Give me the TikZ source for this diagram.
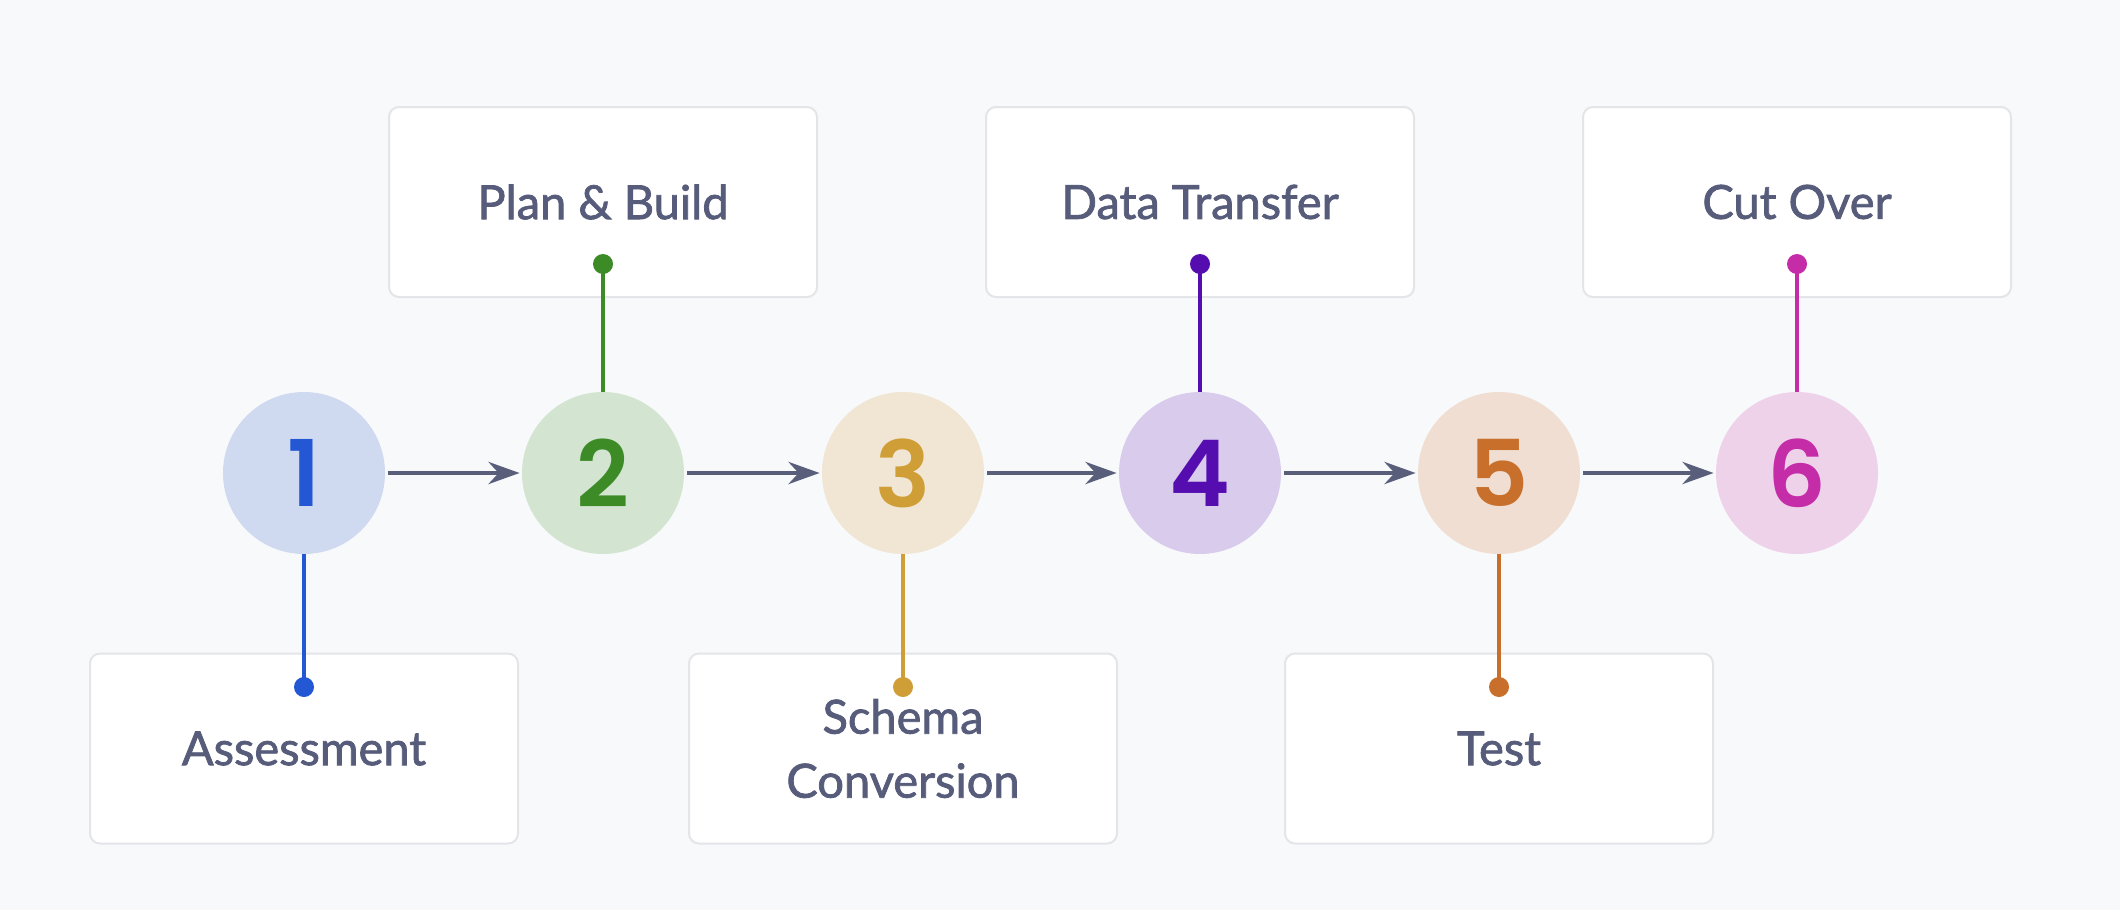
\documentclass[tikz,border=0pt]{standalone}
\usepackage{fontspec}
\setmainfont{Lato}
\newfontfamily\labelfont{Lato}[FakeBold=1.6]
\newfontfamily\numfont{Poppins}[UprightFont={* SemiBold}]
\usetikzlibrary{arrows.meta}
\definecolor{bg}{HTML}{F8F9FB}
\definecolor{boxline}{HTML}{E4E5E9}
\definecolor{labeltext}{HTML}{565C7A}
\definecolor{arrowcol}{HTML}{595E7B}
\definecolor{fillA}{HTML}{CFDAF1}\definecolor{inkA}{HTML}{2457D3}
\definecolor{fillB}{HTML}{D3E5D1}\definecolor{inkB}{HTML}{3D8B27}
\definecolor{fillC}{HTML}{F0E6D3}\definecolor{inkC}{HTML}{CF9E36}
\definecolor{fillD}{HTML}{D9CBEC}\definecolor{inkD}{HTML}{560DB0}
\definecolor{fillE}{HTML}{F0DED2}\definecolor{inkE}{HTML}{C8702B}
\definecolor{fillF}{HTML}{EED2EA}\definecolor{inkF}{HTML}{C42CA8}
\begin{document}
\begin{tikzpicture}[x=0.5pt,y=-0.5pt,
  stepcircle/.style={circle, minimum size=81pt, inner sep=0pt,
    font=\numfont\fontsize{46}{46}\selectfont},
  labelbox/.style={rectangle, rounded corners=5pt, draw=boxline, line width=1pt,
    fill=white, minimum width=214pt, minimum height=95pt, inner sep=0pt,
    font=\labelfont\fontsize{23.5}{32}\selectfont, text=labeltext, align=center},
  dotnode/.style={circle, minimum size=10pt, inner sep=0pt},
  stem/.style={line width=2.2pt},
  flow/.style={draw=arrowcol, line width=2.4pt, -{Stealth[length=15.5pt, width=11pt, inset=5pt]}, shorten <=1.5pt, shorten >=1pt}
]
\path[use as bounding box, fill=bg] (0,0) rectangle (2120,910);

% boxes
\node[labelbox] (b1) at (304,748.5) {Assessment};
\node[labelbox] (b2) at (603,202) {Plan \& Build};
\node[labelbox] (b3) at (903,748.5) {Schema\\Conversion};
\node[labelbox] (b4) at (1200,202) {Data Transfer};
\node[labelbox] (b5) at (1499,748.5) {Test};
\node[labelbox] (b6) at (1797,202) {Cut Over};

% circles
\node[stepcircle, fill=fillA, text=inkA] (c1) at (304,473) {1};
\node[stepcircle, fill=fillB, text=inkB] (c2) at (603,473) {2};
\node[stepcircle, fill=fillC, text=inkC] (c3) at (903,473) {3};
\node[stepcircle, fill=fillD, text=inkD] (c4) at (1200,473) {4};
\node[stepcircle, fill=fillE, text=inkE] (c5) at (1499,473) {5};
\node[stepcircle, fill=fillF, text=inkF] (c6) at (1797,473) {6};

% dots
\node[dotnode, fill=inkA] (d1) at (304,687) {};
\node[dotnode, fill=inkB] (d2) at (603,264) {};
\node[dotnode, fill=inkC] (d3) at (903,687) {};
\node[dotnode, fill=inkD] (d4) at (1200,264) {};
\node[dotnode, fill=inkE] (d5) at (1499,687) {};
\node[dotnode, fill=inkF] (d6) at (1797,264) {};

% stems
\draw[stem, draw=inkA] (c1.south) -- (d1.center);
\draw[stem, draw=inkB] (c2.north) -- (d2.center);
\draw[stem, draw=inkC] (c3.south) -- (d3.center);
\draw[stem, draw=inkD] (c4.north) -- (d4.center);
\draw[stem, draw=inkE] (c5.south) -- (d5.center);
\draw[stem, draw=inkF] (c6.north) -- (d6.center);

% flow arrows
\draw[flow] (c1) -- (c2);
\draw[flow] (c2) -- (c3);
\draw[flow] (c3) -- (c4);
\draw[flow] (c4) -- (c5);
\draw[flow] (c5) -- (c6);
\end{tikzpicture}
\end{document}
